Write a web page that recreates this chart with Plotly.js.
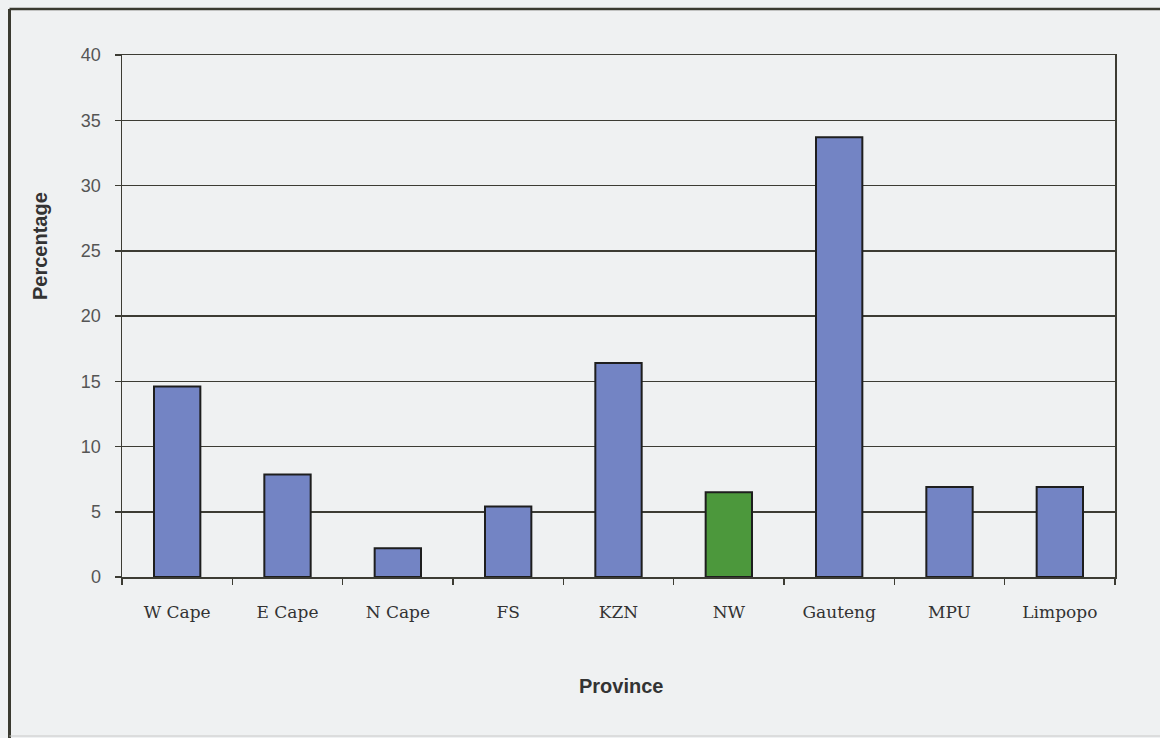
<!DOCTYPE html>
<html>
<head>
<meta charset="utf-8">
<script src="https://cdn.plot.ly/plotly-3.0.1.min.js"></script>
<style>
  html, body { margin: 0; padding: 0; background: #eff1f2; }
  #chart { width: 1160px; height: 738px; }
</style>
</head>
<body>
<div id="chart"></div>
<script>
const provinces = ["W Cape", "E Cape", "N Cape", "FS", "KZN", "NW", "Gauteng", "MPU", "Limpopo"];
const percentages = [14.6, 7.85, 2.2, 5.4, 16.4, 6.5, 33.7, 6.9, 6.9];
const barColors = ["#7384c4", "#7384c4", "#7384c4", "#7384c4", "#7384c4", "#4c983c", "#7384c4", "#7384c4", "#7384c4"];
const yTickValues = [0, 5, 10, 15, 20, 25, 30, 35, 40];

const gridColor = "#3c3c34";

const trace = {
  type: "bar",
  x: provinces,
  y: percentages,
  marker: { color: barColors, line: { color: "#1e1e1e", width: 2 } },
  width: 0.42,
  hoverinfo: "x+y"
};

const layout = {
  width: 1160,
  height: 738,
  margin: { l: 122, r: 45, t: 55, b: 161 },
  paper_bgcolor: "#eff1f2",
  plot_bgcolor: "#eff1f2",
  showlegend: false,
  xaxis: {
    type: "category",
    tickson: "boundaries",
    ticks: "outside",
    ticklen: 6,
    tickwidth: 1.5,
    tickcolor: gridColor,
    showline: true,
    linecolor: gridColor,
    linewidth: 1.5,
    mirror: true,
    showgrid: false,
    ticklabelstandoff: 19,
    tickfont: { family: "DejaVu Serif", size: 17, color: "#333333" }
  },
  yaxis: {
    range: [0, 40],
    tickvals: yTickValues,
    ticks: "outside",
    ticklen: 6,
    tickwidth: 1.5,
    tickcolor: gridColor,
    showline: true,
    linecolor: gridColor,
    linewidth: 1.5,
    mirror: true,
    showgrid: true,
    gridcolor: gridColor,
    gridwidth: 1.5,
    zeroline: false,
    ticklabelstandoff: 10,
    tickfont: { family: "Liberation Sans, Arial", size: 18, color: "#555555" }
  },
  annotations: [
    {
      text: "Percentage", textangle: -90,
      xref: "paper", yref: "paper",
      x: (40 - 122) / 993, y: (577 - 246) / 522,
      xanchor: "center", yanchor: "middle", showarrow: false,
      font: { family: "Liberation Sans, Arial", size: 20, color: "#333333", weight: "bold" }
    },
    {
      text: "Province",
      xref: "paper", yref: "paper",
      x: (621 - 122) / 993, y: (577 - 686) / 522,
      xanchor: "center", yanchor: "middle", showarrow: false,
      font: { family: "Liberation Sans, Arial", size: 20, color: "#333333", weight: "bold" }
    }
  ],
  shapes: [
    { type: "line", xref: "paper", yref: "paper",
      x0: (9.5 - 122) / 993, x1: (9.5 - 122) / 993, y0: -0.35, y1: (577 - 9) / 522,
      line: { color: "#3a3a30", width: 3 } },
    { type: "line", xref: "paper", yref: "paper",
      x0: (9.5 - 122) / 993, x1: 1.06, y0: (577 - 9) / 522, y1: (577 - 9) / 522,
      line: { color: "#3a3a30", width: 2.5 } },
    { type: "line", xref: "paper", yref: "paper",
      x0: (9.5 - 122) / 993, x1: 1.06, y0: (577 - 736) / 522, y1: (577 - 736) / 522,
      line: { color: "#c8c8c8", width: 1 } }
  ]
};

Plotly.newPlot("chart", [trace], layout, { displayModeBar: false, staticPlot: true });
</script>
</body>
</html>
